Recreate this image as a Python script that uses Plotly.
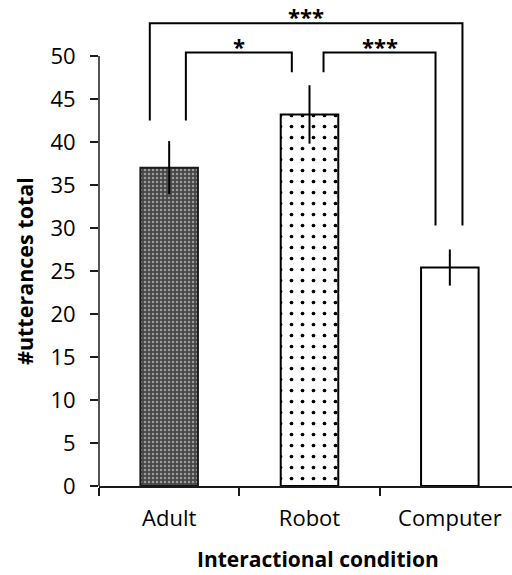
import plotly.graph_objects as go

categories = ["Adult", "Robot", "Computer"]
means = [37.0, 43.2, 25.4]
errors = [3.1, 3.4, 2.1]
y_ticks = [0, 5, 10, 15, 20, 25, 30, 35, 40, 45, 50]

# significance comparisons: (left x, right x, bar height, left foot, right foot, label)
comparisons = [
    (-0.138, 2.09, 53.8, 42.5, 30.3, "***"),
    (0.119, 0.874, 50.4, 42.5, 48.1, "*"),
    (1.10, 1.898, 50.4, 48.1, 30.3, "***"),
]

# per-bar fill styles
styles = [
    dict(bg="#474747", fg="#9c9c9c", line="#1a1a1a", shape=".", size=4, solidity=0.3),
    dict(bg="white", fg="black", line="black", shape=".", size=11, solidity=0.09),
    dict(bg="white", fg="black", line="black", shape="", size=8, solidity=0.2),
]

FONT = "Open Sans"

fig = go.Figure()
for cat, m, e, st in zip(categories, means, errors, styles):
    fig.add_trace(go.Bar(
        x=[cat],
        y=[m],
        width=0.41,
        marker=dict(
            color=st["bg"],
            line=dict(color=st["line"], width=2),
            pattern=dict(shape=st["shape"], fgcolor=st["fg"], bgcolor=st["bg"],
                         fgopacity=1, size=st["size"], solidity=st["solidity"]),
        ),
        error_y=dict(type="data", array=[e], visible=True,
                     thickness=2, width=0, color="black"),
        showlegend=False,
    ))

shapes = []
annotations = []
# y axis line from 0 to 50
shapes.append(dict(type="line", xref="paper", yref="y", x0=0, x1=0,
                   y0=y_ticks[0], y1=y_ticks[-1],
                   line=dict(color="#1a1a1a", width=1.5)))
for xl, xr, h, fl, fr, lab in comparisons:
    shapes.append(dict(type="path", xref="x", yref="y",
                       path=f"M {xl},{fl} L {xl},{h} L {xr},{h} L {xr},{fr}",
                       line=dict(color="black", width=2)))
    annotations.append(dict(x=(xl + xr) / 2, y=h, xref="x", yref="y",
                            text=f"<b>{lab}</b>", showarrow=False,
                            yanchor="bottom", yshift=-10,
                            font=dict(family=FONT, size=22, color="black")))

annotations.append(dict(x=0, xref="paper", y=25, yref="y", xshift=-74,
                        text="<b>#utterances total</b>", textangle=-90,
                        showarrow=False, xanchor="center", yanchor="middle",
                        font=dict(family=FONT, size=21.5, color="black")))
annotations.append(dict(x=1, xref="x", y=0, yref="y", yshift=-73, xshift=8,
                        text="<b>Interactional condition</b>",
                        showarrow=False, xanchor="center", yanchor="middle",
                        font=dict(family=FONT, size=21, color="black")))

fig.update_layout(
    width=512, height=575,
    margin=dict(l=99, r=0, t=0, b=89),
    paper_bgcolor="white", plot_bgcolor="white",
    font=dict(family=FONT, size=22, color="black"),
    shapes=shapes,
    annotations=annotations,
    barmode="overlay",
)
fig.update_xaxes(
    type="category",
    categoryorder="array", categoryarray=categories,
    range=[-0.5, 2.443],
    showline=True, linecolor="#1a1a1a", linewidth=1.5,
    ticks="outside", tickson="boundaries", ticklen=8, tickwidth=1.5,
    tickcolor="#1a1a1a", ticklabelstandoff=12,
    tickfont=dict(family=FONT, size=22, color="black"),
    showgrid=False, zeroline=False,
)
fig.update_yaxes(
    range=[0, 56.51],
    tickvals=y_ticks,
    showline=False,
    ticks="outside", ticklen=8, tickwidth=1.5, tickcolor="#1a1a1a",
    ticklabelstandoff=10,
    tickfont=dict(family=FONT, size=22, color="black"),
    showgrid=False, zeroline=False,
)

fig.write_html("out.html")
